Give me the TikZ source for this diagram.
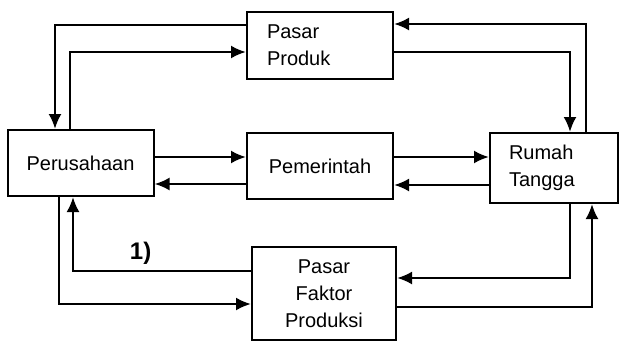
\documentclass[tikz,border=0pt]{standalone}
\usepackage{fontspec}
\setmainfont{Liberation Sans}
\usetikzlibrary{arrows.meta}

\begin{document}
\begin{tikzpicture}[x=1pt, y=-1pt]
\tikzstyle{box}=[draw, line width=2pt, inner sep=0pt, font=\fontsize{20}{27}\selectfont, align=center]
\tikzstyle{flow}=[line width=2.4pt, -{Latex[length=15pt, width=13pt]}]

\useasboundingbox (0,0) rectangle (620,343);

\node[box, minimum width=146pt, minimum height=66pt] (per) at (80.5,163) {Perusahaan};
\node[box, minimum width=146pt, minimum height=67pt, text width=106pt, align=left] (pp) at (320,45.5) {Pasar\\Produk};
\node[box, minimum width=146pt, minimum height=66pt] (pem) at (320,166) {Pemerintah};
\node[box, minimum width=128pt, minimum height=70pt, text width=90pt, align=left] (rt) at (554,168) {Rumah\\Tangga};
\node[box, minimum width=144pt, minimum height=93pt] (pf) at (324,293.5) {Pasar\\Faktor\\Produksi};

\draw[flow] ([yshift=20.5pt]pp.west) -| ([xshift=-25.5pt]per.north);
\draw[flow] ([xshift=-10.5pt]per.north) |- ([yshift=-6.5pt]pp.west);
\draw[flow] ([yshift=-6.5pt]pp.east) -| ([xshift=16pt]rt.north);
\draw[flow] ([xshift=32pt]rt.north) |- ([yshift=21.5pt]pp.east);

\draw[flow] ([yshift=6pt]per.east) -- ([yshift=6pt]per.east -| pem.west);
\draw[flow] ([yshift=9pt]pem.east) -- ([yshift=9pt]pem.east -| rt.west);
\draw[flow] ([yshift=-17pt]rt.west) -- ([yshift=-17pt]rt.west -| pem.east);
\draw[flow] ([yshift=-18pt]pem.west) -- ([yshift=-18pt]pem.west -| per.east);

\draw[flow] ([xshift=-21.5pt]per.south) |- ([yshift=-10.5pt]pf.west);
\draw[flow] ([yshift=22.5pt]pf.west) -| node[pos=0.31, above=2pt, font=\fontsize{24}{28}\selectfont\bfseries] (one) {1)} ([xshift=-7.5pt]per.south);
\draw[flow] ([xshift=16pt]rt.south) |- ([yshift=15.5pt]pf.east);
\draw[flow] ([yshift=-13.5pt]pf.east) -| ([xshift=38pt]rt.south);

\end{tikzpicture}
\end{document}
